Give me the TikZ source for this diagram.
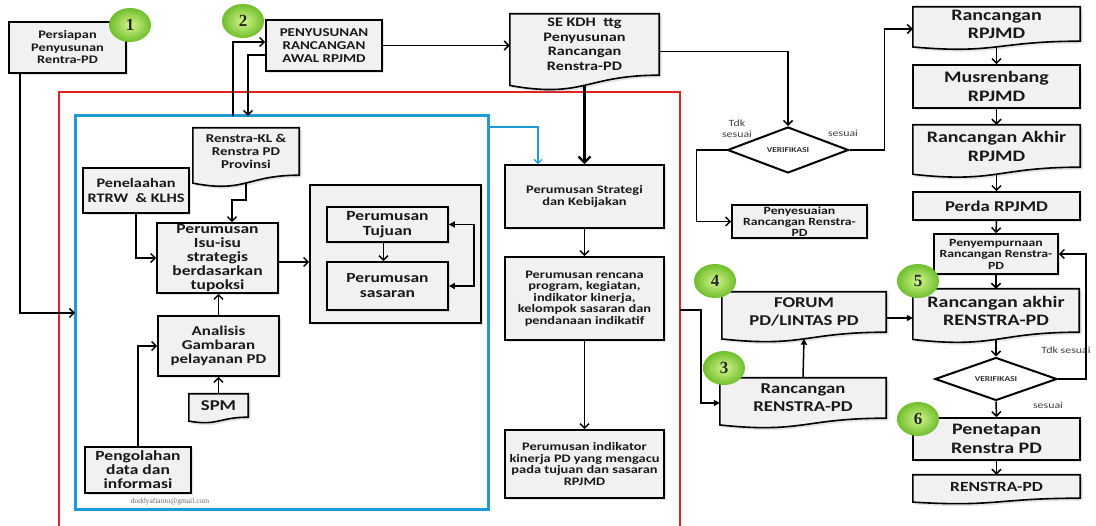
\documentclass[tikz,border=0pt]{standalone}
\usepackage{fontspec}
\setmainfont{Carlito}[FakeStretch=1.25]
\newfontfamily\numfont{Liberation Serif}
\newfontfamily\mailfont{Liberation Serif}
\usetikzlibrary{arrows.meta,shapes.geometric,shadows,calc}
\pgfdeclarelayer{bg}\pgfdeclarelayer{mid}\pgfsetlayers{bg,mid,main}
\definecolor{redf}{HTML}{E32222}
\definecolor{bluef}{HTML}{1E9BD7}
\definecolor{badgein}{HTML}{D4F58C}
\definecolor{badgeout}{HTML}{6FBE2C}
\definecolor{boxfill}{HTML}{F1F1F1}
\newcommand\fsz[2]{\fontsize{#1}{#2}\selectfont}
\newcommand\docshape[1]{%
 \begin{pgfonlayer}{mid}
 \draw[docline] let \p1=(#1.north west), \p2=(#1.south east), \p3=(#1.south), \n1={\y1-\y2} in
   (\x1,\y1) -- (\x2,\y1) -- (\x2,\y2) .. controls (\x3,\y2) and (\x3,{\y2-0.384*\n1}) .. (\x1,{\y2-0.1675*\n1}) -- cycle;
 \end{pgfonlayer}}
\tikzset{
 box/.style={draw=black, line width=1.6pt, fill=boxfill, drop shadow={opacity=0.22}, align=center, inner sep=0pt, text=black!90, font=\bfseries},
 doc/.style={align=center, inner sep=0pt, text=black!90, font=\bfseries},
 docline/.style={draw=black, line width=1.6pt, fill=boxfill, drop shadow={opacity=0.22}},
 sz/.style 2 args={minimum width=#1pt, minimum height=#2pt},
 arr/.style={line width=1.5pt, -{Straight Barb[length=4.5pt,width=9pt]}},
 tri/.style={line width=1.5pt, -{Triangle[length=6pt,width=6pt]}},
 blu/.style={line width=1.2pt, draw=bluef, -{Straight Barb[length=4pt,width=8pt]}},
 ver/.style={shape=diamond, draw=black, line width=2pt, fill=white, aspect=2.6, inner sep=0pt, font=\bfseries\fsz{7.5}{8}, text=black!80},
 lbl/.style={align=center, inner sep=0pt, text=black!75, font=\fsz{9.5}{11}},
 badge/.style={ellipse, inner sep=0pt, minimum width=42pt, minimum height=34pt, inner color=badgein, outer color=badgeout, font=\numfont\bfseries\fsz{17}{17}, text=black!85}
}
\begin{document}
\begin{tikzpicture}[x=1pt,y=-1pt]
\useasboundingbox (0,0) rectangle (1096,526);
\begin{pgfonlayer}{bg}
\fill[white] (0,0) rectangle (1096,526);
\draw[redf, line width=1.5pt] (59,528) -- (59,92) -- (680,92) -- (680,528);
\draw[bluef, line width=3pt] (75,116) rectangle (488,510);
\end{pgfonlayer}

% top row
\node[box, sz={117}{51}, font=\bfseries\fsz{11.5}{12.5}] (persiapan) at (67.5,47.5) {Persiapan\\Penyusunan\\Rentra-PD};
\node[box, sz={116}{51}, font=\bfseries\fsz{12}{13}] (penyusunan) at (324,45.5) {PENYUSUNAN\\RANCANGAN\\AWAL RPJMD};
\node[doc, sz={149}{61}, font=\bfseries\fsz{13}{14.5}] (se) at (584.5,44.5) {SE KDH~ ttg\\Penyusunan\\Rancangan\\Renstra-PD};
\docshape{se}

% inside blue frame
\node[doc, sz={106}{47}, font=\bfseries\fsz{12}{13}] (renkl) at (246,151.5) {Renstra-KL \&\\Renstra PD\\Provinsi};
\docshape{renkl}
\node[box, sz={106}{45}, font=\bfseries\fsz{13}{15}] (penelaahan) at (136,190.5) {Penelaahan\\RTRW~ \& KLHS};
\node[box, sz={121}{70}, font=\bfseries\fsz{14}{14}] (isu) at (217.5,258) {Perumusan\\Isu-isu\\strategis\\berdasarkan\\tupoksi};
\node[box, sz={171}{138}] (group) at (395.5,254) {};
\node[box, sz={121}{35}, font=\bfseries\fsz{14}{14.5}] (tujuan) at (387.5,224.5) {Perumusan\\Tujuan};
\node[box, sz={121}{48}, font=\bfseries\fsz{14}{15}] (sasaran) at (387.5,286) {Perumusan\\sasaran};
\node[box, sz={121}{60}, font=\bfseries\fsz{13.5}{14}] (analisis) at (218.5,346) {Analisis\\Gambaran\\pelayanan PD};
\node[doc, sz={59}{23}, font=\bfseries\fsz{15}{15}] (spm) at (218.5,405.5) {SPM};
\docshape{spm}
\node[box, sz={106}{46}, font=\bfseries\fsz{14}{14}] (pengolahan) at (138,470) {Pengolahan\\data dan\\informasi};
\node[text=black!60, font=\mailfont\fsz{7.5}{8}] (mail) at (170,502) {doddyafianto@gmail.com};

% middle column
\node[box, sz={159}{63}, font=\bfseries\fsz{11.5}{12}] (strategi) at (584.5,196.5) {Perumusan Strategi\\dan Kebijakan};
\node[box, sz={159}{83}, font=\bfseries\fsz{11.5}{11.5}] (rencana) at (584.5,298.5) {Perumusan rencana\\program, kegiatan,\\indikator kinerja,\\kelompok sasaran dan\\pendanaan indikatif};
\node[box, sz={159}{68}, font=\bfseries\fsz{11.5}{11.5}] (indikator) at (584.5,464) {Perumusan indikator\\kinerja PD yang mengacu\\pada tujuan dan sasaran\\RPJMD};

% verification 1
\node[ver, minimum width=121pt, minimum height=46pt] (ver1) at (788,150) {VERIFIKASI};
\node[box, sz={135}{33}, font=\bfseries\fsz{11}{11}] (penyes) at (799.5,221.5) {Penyesuaian\\Rancangan Renstra-\\PD};
\node[lbl] (l1) at (737,129) {Tdk\\sesuai};
\node[lbl] (l2) at (843,133) {sesuai};

% right column
\node[doc, sz={167}{34}, font=\bfseries\fsz{16}{18}] (rrpjmd) at (996.5,24) {Rancangan\\RPJMD};
\docshape{rrpjmd}
\node[box, sz={167}{43}, font=\bfseries\fsz{16}{19}] (musren) at (996.5,86.5) {Musrenbang\\RPJMD};
\node[doc, sz={167}{42}, font=\bfseries\fsz{16}{19}] (rakhir) at (996.5,146) {Rancangan Akhir\\RPJMD};
\docshape{rakhir}
\node[box, sz={167}{28}, font=\bfseries\fsz{15}{16}] (perda) at (996.5,206) {Perda RPJMD};
\node[box, sz={124}{40}, font=\bfseries\fsz{11}{11.5}] (penyem) at (996,254) {Penyempurnaan\\Rancangan Renstra-\\PD};
\node[doc, sz={166}{43}, font=\bfseries\fsz{16}{18}] (rakhirr) at (996,310.5) {Rancangan akhir\\RENSTRA-PD};
\docshape{rakhirr}
\node[ver, minimum width=122pt, minimum height=43pt] (ver2) at (996,379) {VERIFIKASI};
\node[box, sz={167}{42}, font=\bfseries\fsz{16}{19}] (penetapan) at (996.5,439) {Penetapan\\Renstra PD};
\node[doc, sz={167}{23}, font=\bfseries\fsz{14}{15}] (renstra) at (996.5,486.5) {RENSTRA-PD};
\docshape{renstra}
\node[lbl] (l3) at (1066,350) {Tdk sesuai};
\node[lbl] (l4) at (1048,405) {sesuai};

% forum / rancangan
\node[doc, sz={164}{40}, font=\bfseries\fsz{15}{18}] (forum) at (804,312) {FORUM\\PD/LINTAS PD};
\docshape{forum}
\node[doc, sz={166}{40}, font=\bfseries\fsz{15}{18}] (rrenstra) at (803,398) {Rancangan\\RENSTRA-PD};
\docshape{rrenstra}

% connectors
\coordinate (bin) at (75,313);
\draw[arr] ([xshift=12pt]persiapan.south west) |- (bin);
\coordinate (bt1) at (233,116);
\coordinate (bt2) at (248,116);
\draw[arr] (bt1) |- ([yshift=3.5pt]penyusunan.west);
\draw[arr] ([yshift=-9.5pt]penyusunan.west) -| (bt2);
\draw[arr] (penyusunan.east) -- (penyusunan.east -| se.west);
\draw[line width=2.4pt, -{Straight Barb[length=6pt,width=12pt]}] ([yshift=-10pt]se.south) -- (strategi.north);
\draw[arr] ([yshift=-7pt]se.east) -| (ver1.north);
\draw[arr] (ver1.east) -- ++(35,0) |- ([yshift=-5pt]rrpjmd.west);
\draw[arr] (ver1.west) -- ++(-30,0) |- (penyes.west);
\draw[arr] ([yshift=-5.5pt]rrpjmd.south) -- (musren.north);
\draw[arr] (musren.south) -- (rakhir.north);
\draw[arr] ([yshift=-7pt]rakhir.south) -- (perda.north);
\draw[arr] (perda.south) -- (penyem.north);
\draw[arr] (penyem.south) -- (rakhirr.north);
\draw[arr] ([yshift=-7pt]rakhirr.south) -- (ver2.north);
\draw[arr] (ver2.south) -- (penetapan.north);
\draw[arr] (penetapan.south) -- (renstra.north);
\draw[arr] (ver2.east) -- ++(28,0) |- (penyem.east);
\coordinate (redr) at (680,310);
\draw[tri] (redr) -- ++(21,0) |- ([yshift=-5pt]rrenstra.west);
\draw[tri] (rrenstra.north) -- ([yshift=-6.5pt]forum.south);
\draw[tri] ([yshift=-6pt]forum.east) -- ([yshift=-6pt]forum.east -| rakhirr.west);
\coordinate (bout) at (488,127);
\draw[blu] (bout) -| ([xshift=-46.5pt]strategi.north);
\draw[arr] ([yshift=-8pt]renkl.south) -- ++(0,17) -| ([xshift=14.5pt]isu.north);
\draw[arr] (penelaahan.south) |- (isu.west);
\draw[arr] ([yshift=-4pt]isu.east) -- ([yshift=-4pt]isu.east -| group.west);
\draw[arr] ([xshift=-4pt]tujuan.south) -- ([xshift=-4pt]sasaran.north);
\draw[line width=1.5pt, {Triangle[length=6pt,width=6pt]}-{Triangle[length=6pt,width=6pt]}] (tujuan.east) -- ++(25,0) |- (sasaran.east);
\draw[arr] (analisis.north) -- (analisis.north |- isu.south);
\draw[arr] (spm.north) -- (analisis.south);
\draw[arr] (pengolahan.north) |- (analisis.west);
\draw[arr] (strategi.south) -- (rencana.north);
\draw[arr] (rencana.south) -- (indikator.north);

% badges
\node[badge] (b1) at (130,25) {1};
\node[badge] (b2) at (243,21) {2};
\node[badge] (b3) at (724,368) {3};
\node[badge] (b4) at (715,281) {4};
\node[badge] (b5) at (918,281) {5};
\node[badge] (b6) at (918,419) {6};
\end{tikzpicture}
\end{document}
